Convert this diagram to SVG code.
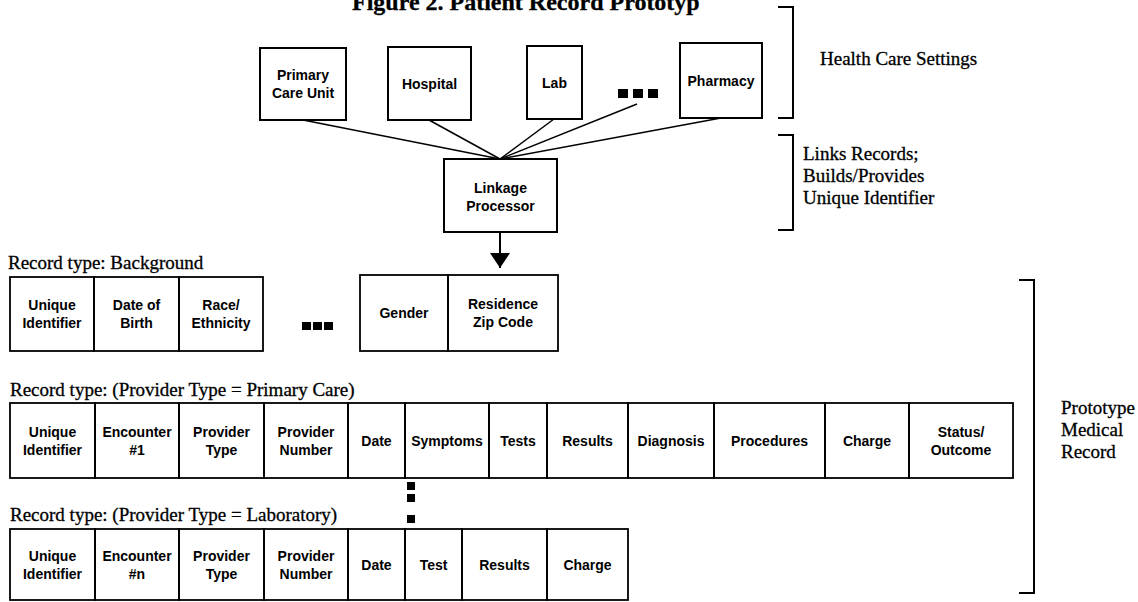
<svg xmlns="http://www.w3.org/2000/svg" width="1138" height="602" viewBox="0 0 1138 602">
<style>
.box{fill:#fff;stroke:#000;stroke-width:2}
.cell{fill:none;stroke:#000;stroke-width:1.8}
.t{font-family:"Liberation Sans",Arial,sans-serif;font-size:14px;font-weight:bold;text-anchor:middle;fill:#000}
.s{font-family:"Liberation Serif","Times New Roman",serif;font-size:19px;fill:#000;stroke:#000;stroke-width:0.3}
.ln{stroke:#000;stroke-width:1.5;fill:none}
.brk{stroke:#000;stroke-width:2;fill:none}
.dot{fill:#000}
</style>
<defs>
<marker id="ah" viewBox="0 0 15 20" refX="15" refY="10" markerWidth="15" markerHeight="20" markerUnits="userSpaceOnUse" orient="auto"><path d="M0,0 L15,10 L0,20 z" fill="#000"/></marker>
</defs>
<rect width="1138" height="602" fill="#fff"/>
<text class="s" x="352" y="10" style="font-size:24px;font-weight:bold">Figure 2. Patient Record Prototyp</text>

<g id="connectors">
<line class="ln" x1="303" y1="120" x2="500" y2="159"/>
<line class="ln" x1="429" y1="120" x2="500" y2="159"/>
<line class="ln" x1="554" y1="119" x2="500" y2="159"/>
<line class="ln" x1="637" y1="104" x2="500" y2="159"/>
<line class="ln" x1="721" y1="118" x2="500" y2="159"/>
<line stroke="#000" stroke-width="2" x1="500" y1="232" x2="500" y2="268" marker-end="url(#ah)"/>
</g>

<g id="primary-care-unit"><rect class="box" x="260" y="48" width="86" height="72"/><text class="t" x="303" y="80">Primary</text><text class="t" x="303" y="98">Care Unit</text></g>
<g id="hospital"><rect class="box" x="388" y="47" width="83" height="73"/><text class="t" x="429.5" y="89">Hospital</text></g>
<g id="lab"><rect class="box" x="527" y="46" width="55" height="73"/><text class="t" x="554.5" y="88">Lab</text></g>
<g id="settings-ellipsis"><rect class="dot" x="618" y="89" width="10" height="9"/><rect class="dot" x="633" y="89" width="10" height="9"/><rect class="dot" x="648" y="89" width="10" height="9"/></g>
<g id="pharmacy"><rect class="box" x="680" y="43" width="82" height="75"/><text class="t" x="721" y="86">Pharmacy</text></g>

<g id="health-care-settings"><path class="brk" d="M778,7 H793 V118 H778"/><text class="s" x="820" y="65">Health Care Settings</text></g>

<g id="linkage-processor"><rect class="box" x="444" y="159" width="113" height="73"/><text class="t" x="500.5" y="193">Linkage</text><text class="t" x="500.5" y="211">Processor</text></g>

<g id="links-note"><path class="brk" d="M778,135 H793 V230 H778"/><text class="s" x="803" y="160">Links Records;</text><text class="s" x="803" y="182">Builds/Provides</text><text class="s" x="803" y="204">Unique Identifier</text></g>

<text class="s" x="8" y="269">Record type: Background</text>
<g id="background-record">
<g id="bg-uid"><rect class="cell" x="10" y="277" width="84" height="74"/><text class="t" x="52" y="310">Unique</text><text class="t" x="52" y="328">Identifier</text></g>
<g id="bg-dob"><rect class="cell" x="94" y="277" width="85" height="74"/><text class="t" x="136.5" y="310">Date of</text><text class="t" x="136.5" y="328">Birth</text></g>
<g id="bg-race"><rect class="cell" x="179" y="277" width="84" height="74"/><text class="t" x="221" y="310">Race/</text><text class="t" x="221" y="328">Ethnicity</text></g>
<g id="bg-ellipsis"><rect class="dot" x="302" y="322" width="9" height="8"/><rect class="dot" x="313" y="322" width="9" height="8"/><rect class="dot" x="324" y="322" width="9" height="8"/></g>
<g id="bg-gender"><rect class="cell" x="360" y="275" width="88" height="76"/><text class="t" x="404" y="318">Gender</text></g>
<g id="bg-zip"><rect class="cell" x="448" y="275" width="110" height="76"/><text class="t" x="503" y="309">Residence</text><text class="t" x="503" y="327">Zip Code</text></g>
</g>

<text class="s" x="10" y="396">Record type: (Provider Type = Primary Care)</text>
<g id="primary-care-record">
<g id="pc-uid"><rect class="cell" x="10" y="403" width="85" height="75"/><text class="t" x="52.5" y="437">Unique</text><text class="t" x="52.5" y="455">Identifier</text></g>
<g id="pc-enc"><rect class="cell" x="95" y="403" width="84" height="75"/><text class="t" x="137" y="437">Encounter</text><text class="t" x="137" y="455">#1</text></g>
<g id="pc-ptype"><rect class="cell" x="179" y="403" width="85" height="75"/><text class="t" x="221.5" y="437">Provider</text><text class="t" x="221.5" y="455">Type</text></g>
<g id="pc-pnum"><rect class="cell" x="264" y="403" width="84" height="75"/><text class="t" x="306" y="437">Provider</text><text class="t" x="306" y="455">Number</text></g>
<g id="pc-date"><rect class="cell" x="348" y="403" width="57" height="75"/><text class="t" x="376.5" y="446">Date</text></g>
<g id="pc-symptoms"><rect class="cell" x="405" y="403" width="84" height="75"/><text class="t" x="447" y="446">Symptoms</text></g>
<g id="pc-tests"><rect class="cell" x="489" y="403" width="58" height="75"/><text class="t" x="518" y="446">Tests</text></g>
<g id="pc-results"><rect class="cell" x="547" y="403" width="81" height="75"/><text class="t" x="587.5" y="446">Results</text></g>
<g id="pc-diagnosis"><rect class="cell" x="628" y="403" width="86" height="75"/><text class="t" x="671" y="446">Diagnosis</text></g>
<g id="pc-procedures"><rect class="cell" x="714" y="403" width="111" height="75"/><text class="t" x="769.5" y="446">Procedures</text></g>
<g id="pc-charge"><rect class="cell" x="825" y="403" width="84" height="75"/><text class="t" x="867" y="446">Charge</text></g>
<g id="pc-status"><rect class="cell" x="909" y="403" width="104" height="75"/><text class="t" x="961" y="437">Status/</text><text class="t" x="961" y="455">Outcome</text></g>
</g>

<g id="record-ellipsis"><rect class="dot" x="407" y="482" width="8" height="8"/><rect class="dot" x="407" y="494" width="8" height="8"/><rect class="dot" x="407" y="515" width="8" height="8"/></g>

<text class="s" x="10" y="521">Record type: (Provider Type = Laboratory)</text>
<g id="laboratory-record">
<g id="lab-uid"><rect class="cell" x="10" y="529" width="85" height="71"/><text class="t" x="52.5" y="561">Unique</text><text class="t" x="52.5" y="579">Identifier</text></g>
<g id="lab-enc"><rect class="cell" x="95" y="529" width="84" height="71"/><text class="t" x="137" y="561">Encounter</text><text class="t" x="137" y="579">#n</text></g>
<g id="lab-ptype"><rect class="cell" x="179" y="529" width="85" height="71"/><text class="t" x="221.5" y="561">Provider</text><text class="t" x="221.5" y="579">Type</text></g>
<g id="lab-pnum"><rect class="cell" x="264" y="529" width="84" height="71"/><text class="t" x="306" y="561">Provider</text><text class="t" x="306" y="579">Number</text></g>
<g id="lab-date"><rect class="cell" x="348" y="529" width="57" height="71"/><text class="t" x="376.5" y="570">Date</text></g>
<g id="lab-test"><rect class="cell" x="405" y="529" width="57" height="71"/><text class="t" x="433.5" y="570">Test</text></g>
<g id="lab-results"><rect class="cell" x="462" y="529" width="85" height="71"/><text class="t" x="504.5" y="570">Results</text></g>
<g id="lab-charge"><rect class="cell" x="547" y="529" width="81" height="71"/><text class="t" x="587.5" y="570">Charge</text></g>
</g>

<g id="prototype-medical-record"><path class="brk" d="M1019,280 H1034 V593 H1019"/><text class="s" x="1061" y="414">Prototype</text><text class="s" x="1061" y="436">Medical</text><text class="s" x="1061" y="458">Record</text></g>
</svg>
